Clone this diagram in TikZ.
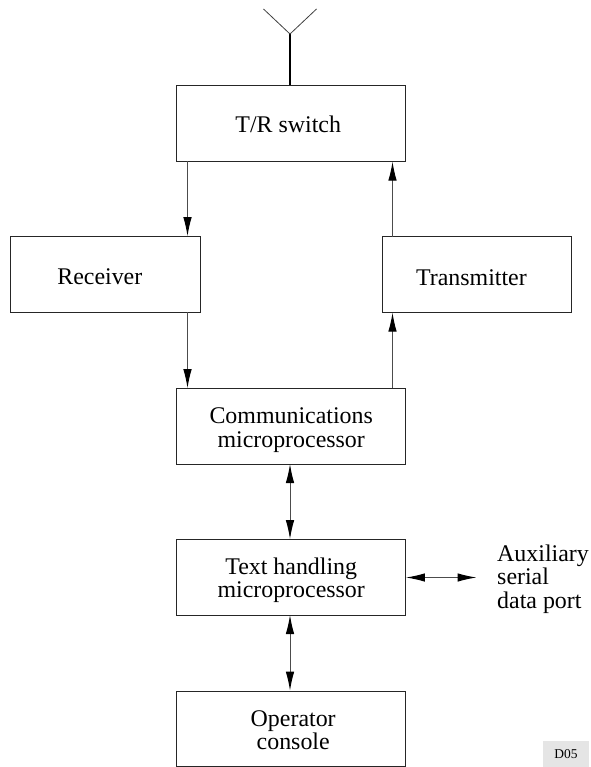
\documentclass[tikz,border=0pt]{standalone}
\usepackage{fontspec}
\setmainfont{Liberation Serif}
\usetikzlibrary{arrows.meta}
\newcommand{\topgap}[1]{\rule{0pt}{#1bp}}
\tikzset{
  blockbox/.style={draw=black!85,line width=1bp,inner sep=0pt,minimum height=75.5bp,align=center,font=\fontsize{24}{23.6}\selectfont},
  wide/.style={blockbox,minimum width=228.5bp},
  side/.style={blockbox,minimum width=189.5bp},
  conn/.style={draw=black!70,line width=1bp,-{Latex[length=19bp,width=8.5bp,black]}},
  biconn/.style={draw=black!70,line width=1bp,{Latex[length=19bp,width=8.5bp,black]}-{Latex[length=19bp,width=8.5bp,black]}},
}
\begin{document}
\begin{tikzpicture}[x=1bp,y=-1bp]
\useasboundingbox (0,0) rectangle (591,767);
\node[wide] (tr) at (291.2,123.4) {\topgap{18}T/R switch\hspace*{6bp}};
\node[side] (rx) at (105.3,274.4) {\topgap{21}Receiver\hspace*{11bp}};
\node[side] (tx) at (476.9,274.4) {\topgap{22.3}Transmitter\hspace*{11bp}};
\node[wide] (comm) at (291.2,426.4) {\topgap{23}Communications\\microprocessor};
\node[wide] (text) at (291.2,577.4) {\topgap{22.5}Text handling\\microprocessor};
\node[wide] (op) at (291.2,728.9) {\topgap{18.3}\hspace*{4bp}Operator\\\hspace*{4bp}console};
\node[anchor=west,align=left,inner sep=0pt,font=\fontsize{24}{23.6}\selectfont] (aux) at (497,579) {Auxiliary\\serial\\data port};
\node[fill=black!10,minimum width=46bp,minimum height=26bp,inner sep=0pt,font=\fontsize{13.5}{14}\selectfont] (d) at (566,754) {D05};
\coordinate (ant) at (290,34);
\coordinate (antl) at (263.5,9);
\coordinate (antr) at (316.5,9);
\coordinate (auxend) at (476.5,577.5);
\draw[line width=1.6bp] (ant) -- (ant |- tr.north);
\draw[draw=black!75,line width=.8bp] (antl) -- (ant) -- (antr);
\draw[conn] (187.5,161) coordinate (a1) -- (a1 |- rx.north);
\draw[conn] (392.5,237) coordinate (a2) -- (a2 |- tr.south);
\draw[conn] (187.5,312) coordinate (a3) -- (a3 |- comm.north);
\draw[conn] (392.5,388) coordinate (a4) -- (a4 |- tx.south);
\draw[biconn] (290,464) coordinate (a5) -- (a5 |- text.north);
\draw[biconn] (290,615) coordinate (a6) -- (a6 |- op.north);
\draw[biconn] (text.east |- auxend) -- (auxend);
\end{tikzpicture}
\end{document}
